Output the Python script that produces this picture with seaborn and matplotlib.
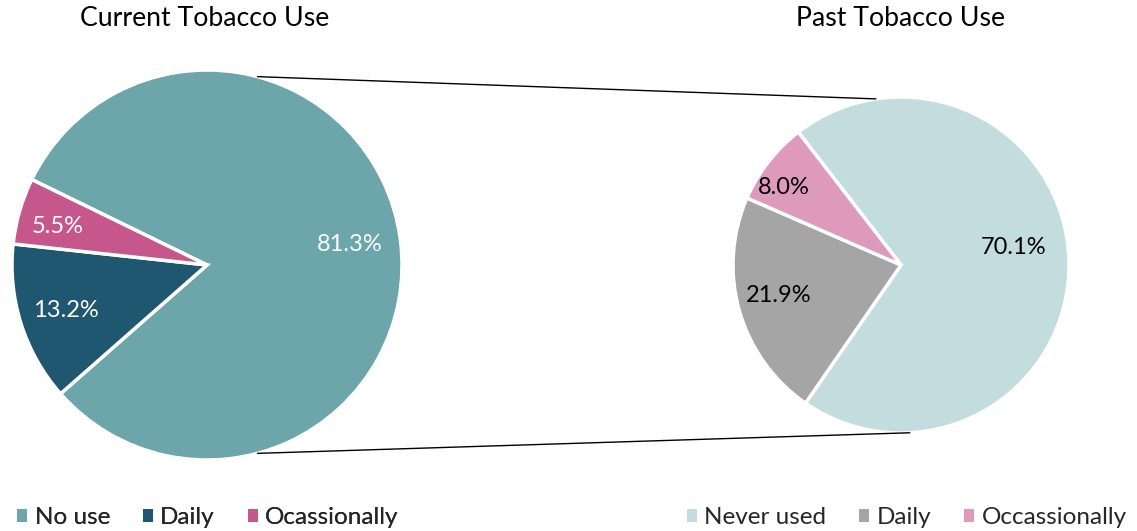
import numpy as np
import matplotlib
matplotlib.use("Agg")
import matplotlib.pyplot as plt
from matplotlib.patches import Patch
import seaborn as sns

# Data
current_labels = ["No use", "Daily", "Ocassionally"]
current_values = [81.3, 13.2, 5.5]
past_labels = ["Never used", "Daily", "Occassionally"]
past_values = [70.1, 21.9, 8.0]

current_colors = ["#6CA6AA", "#1F5670", "#C5578D"]
past_colors = ["#C3DCDE", "#A5A5A5", "#DE9ABD"]

sns.set_theme(style="white")
plt.rcParams["font.family"] = ["Lato", "DejaVu Sans"]

W, H = 1137, 531
fig = plt.figure(figsize=(W / 100, H / 100), dpi=100)
ax = fig.add_axes([0, 0, 1, 1])

# Pie geometry (pixel units, y up)
c_left, r_left = (207, 266), 195
c_right, r_right = (901, 266), 168

edge = dict(edgecolor="white", linewidth=2.5)

w1, _ = ax.pie(current_values, colors=sns.color_palette(current_colors),
               center=c_left, radius=r_left, startangle=154,
               counterclock=False, wedgeprops=edge, frame=True)
w2, _ = ax.pie(past_values, colors=sns.color_palette(past_colors),
               center=c_right, radius=r_right, startangle=127.7,
               counterclock=False, wedgeprops=edge, frame=True)
ax.set_xlim(0, W)
ax.set_ylim(0, H)
ax.set_aspect("equal")
ax.axis("off")

# Percent labels: (angle in degrees, fraction of radius)
left_pos = [(8, 0.74), (198, 0.76), (165.4, 0.79)]
right_pos = [(8.6, 0.68), (194, 0.75), (146.5, 0.84)]
left_txt = ["white", "white", "white"]
right_txt = ["black", "black", "black"]

def put_labels(values, center, radius, pos, tcolors):
    for v, (ang, frac), tc in zip(values, pos, tcolors):
        a = np.deg2rad(ang)
        x = center[0] + frac * radius * np.cos(a)
        y = center[1] + frac * radius * np.sin(a)
        ax.text(x, y, f"{v:.1f}%", ha="center", va="center",
                fontsize=17, color=tc)

put_labels(current_values, c_left, r_left, left_pos, left_txt)
put_labels(past_values, c_right, r_right, right_pos, right_txt)

# Connector lines between the two pies
def on_circle(center, radius, ang):
    a = np.deg2rad(ang)
    return center[0] + radius * np.cos(a), center[1] + radius * np.sin(a)

for a_l, a_r in [(75, 98.6), (-75, -87)]:
    p1 = on_circle(c_left, r_left, a_l)
    p2 = on_circle(c_right, r_right, a_r)
    ax.plot([p1[0], p2[0]], [p1[1], p2[1]], color="black", linewidth=1)

# Titles
ax.text(205, H - 18, "Current Tobacco Use", ha="center", va="center",
        fontsize=19.2, color="black")
ax.text(900, H - 18, "Past Tobacco Use", ha="center", va="center",
        fontsize=19.2, color="black")

# Legends
def make_legend(labels, colors, x):
    handles = [Patch(facecolor=c, edgecolor="none", label=l)
               for l, c in zip(labels, colors)]
    return fig.legend(handles=handles, loc="lower left",
                      bbox_to_anchor=(x, 0.005), ncol=3, frameon=False,
                      fontsize=17.5, handlelength=0.42, handleheight=0.42,
                      handletextpad=0.3, columnspacing=1.35,
                      borderpad=0, borderaxespad=0)

leg1 = make_legend(current_labels, current_colors, 0.015)
leg2 = make_legend(past_labels, past_colors, 0.604)
fig.add_artist(leg1)

fig.savefig("out.png", dpi=100)
